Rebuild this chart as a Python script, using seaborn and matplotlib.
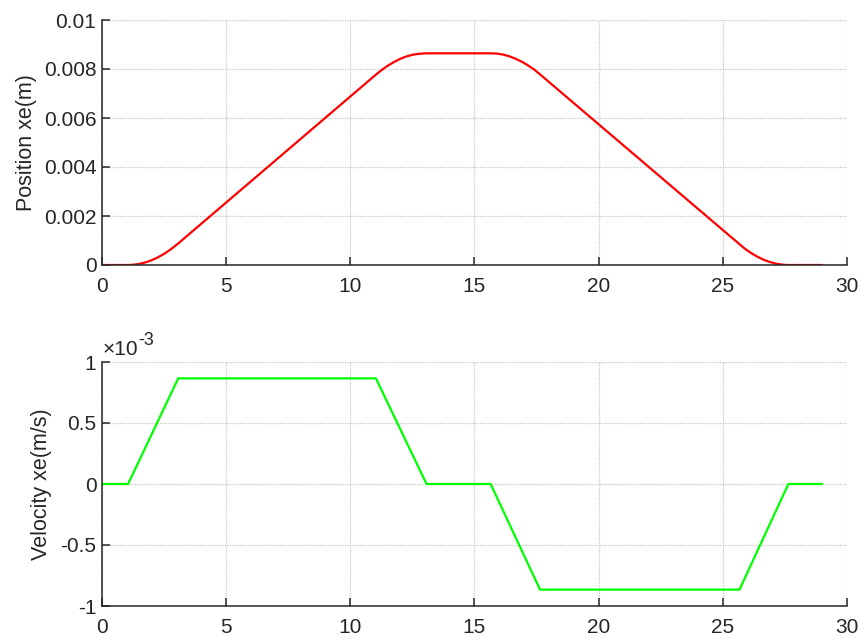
import numpy as np
import pandas as pd
import matplotlib
matplotlib.use("Agg")
import matplotlib.pyplot as plt
import matplotlib.transforms as mtransforms
import seaborn as sns

# ---- data ----
pos_t = [0, 1.05, 1.25, 1.5, 1.75, 2.0, 2.25, 2.5, 2.75, 3.07,
         11.03, 11.25, 11.5, 11.75, 12.0, 12.25, 12.5, 12.75, 13.07,
         15.65, 15.9, 16.15, 16.4, 16.65, 16.9, 17.15, 17.4, 17.64,
         25.67, 25.9, 26.15, 26.4, 26.65, 26.9, 27.15, 27.4, 27.64, 29.0]
pos_x = [0, 0, 0.0000087, 0.0000438, 0.000106, 0.000195, 0.000312, 0.000455, 0.000626, 0.00088,
         0.00777, 0.00795, 0.00813, 0.00828, 0.00841, 0.00851, 0.00858, 0.00862, 0.00864,
         0.00864, 0.00863, 0.00859, 0.00852, 0.00842, 0.00830, 0.00815, 0.00798, 0.00778,
         0.00085, 0.000655, 0.000481, 0.000333, 0.000212, 0.000119, 0.000052, 0.0000125, 0, 0]

vel_t = [0, 1.05, 3.07, 11.03, 13.07, 15.65, 17.64, 25.67, 27.64, 29.0]
vel_v = [0, 0, 0.866e-3, 0.866e-3, 0, 0, -0.866e-3, -0.866e-3, 0, 0]

x_ticks = [0, 5, 10, 15, 20, 25, 30]
pos_ticks = [0, 0.002, 0.004, 0.006, 0.008, 0.01]
pos_tick_labels = ["0", "0.002", "0.004", "0.006", "0.008", "0.01"]
vel_ticks = [-1e-3, -0.5e-3, 0, 0.5e-3, 1e-3]
vel_tick_labels = ["-1", "-0.5", "0", "0.5", "1"]

sns.set_style("white")
plt.rcParams['font.family'] = ['Liberation Sans', 'DejaVu Sans']

fig = plt.figure(figsize=(8.62, 6.39), dpi=100)
left = 102 / 862
width = (847 - 102) / 862
ax1 = fig.add_axes([left, 1 - 265 / 639, width, 245 / 639])
ax2 = fig.add_axes([left, 1 - 606 / 639, width, 244 / 639])

df_p = pd.DataFrame({"t": pos_t, "x": pos_x})
df_v = pd.DataFrame({"t": vel_t, "v": vel_v})
sns.lineplot(data=df_p, x="t", y="x", ax=ax1, color="#ff0000", linewidth=1.6, sort=False)
sns.lineplot(data=df_v, x="t", y="v", ax=ax2, color="#00ff00", linewidth=1.6, sort=False)

tc = "#262626"
FS = 15
for ax in (ax1, ax2):
    ax.set_xlim(0, 30)
    ax.set_xticks(x_ticks)
    ax.set_xticklabels([str(v) for v in x_ticks])
    ax.spines['top'].set_visible(False)
    ax.spines['right'].set_visible(False)
    for s in ('left', 'bottom'):
        ax.spines[s].set_color(tc)
        ax.spines[s].set_linewidth(1.1)
    ax.tick_params(direction='in', length=6, width=1.1, colors=tc, labelsize=FS,
                   labelcolor=tc, bottom=True, left=True)
    ax.tick_params(axis='x', pad=8.5)
    ax.tick_params(axis='y', pad=4)
    ax.grid(True, color="#c4c4c4", linestyle=(0, (1, 1)), linewidth=0.9)
    ax.set_axisbelow(True)
    ax.set_xlabel("")

ax1.set_ylim(0, 0.01)
ax1.set_yticks(pos_ticks)
ax1.set_yticklabels(pos_tick_labels)
ax1.set_ylabel("Position xe(m)", fontsize=15.5, color=tc, labelpad=5)

ax2.set_ylim(-1e-3, 1e-3)
ax2.set_yticks(vel_ticks)
ax2.set_yticklabels(vel_tick_labels)
ax2.set_ylabel("Velocity xe(m/s)", fontsize=15.5, color=tc, labelpad=6)

# MATLAB-style exponent label "×10^-3"
t1 = ax2.text(0.0, 1.0, "\u00d710",
              transform=mtransforms.offset_copy(ax2.transAxes, fig=fig, x=0.5, y=2, units='points'),
              ha='left', va='bottom', fontsize=FS, color=tc)
ax2.annotate("-3", xy=(1.0, 0.55), xycoords=t1, xytext=(0, 0), textcoords='offset points',
             ha='left', va='bottom', fontsize=FS * 0.85, color=tc)

fig.savefig("out.png", dpi=100)
